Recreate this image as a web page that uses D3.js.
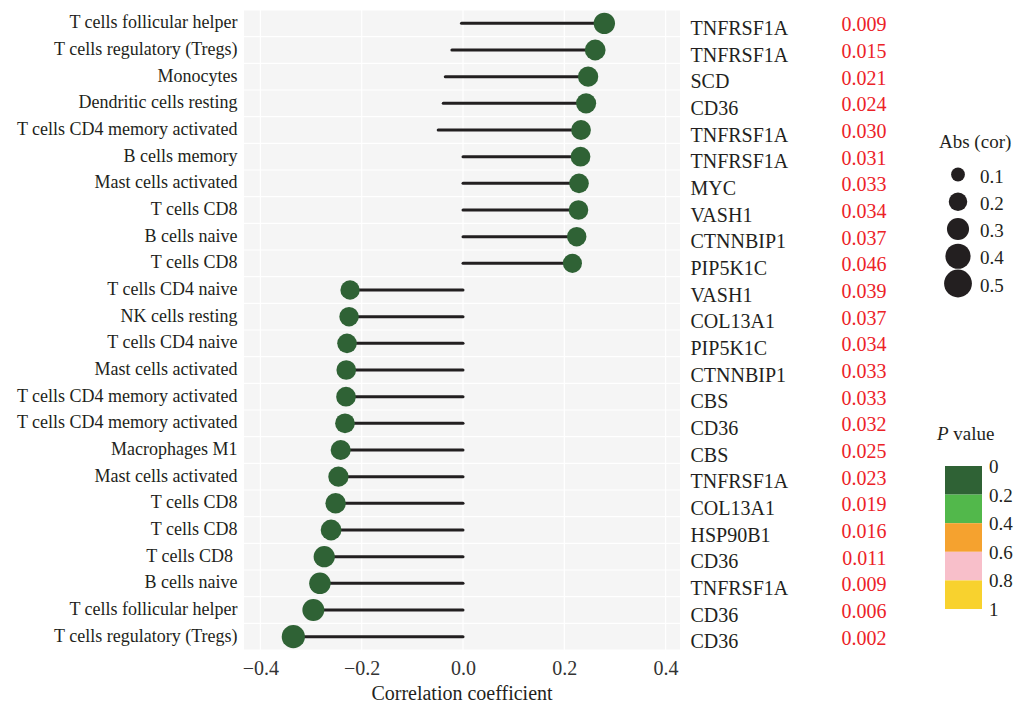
<!DOCTYPE html>
<html>
<head>
<meta charset="utf-8">
<script src="https://cdn.jsdelivr.net/npm/d3@7"></script>
<style>
  body { margin: 0; background: #fff; }
  svg { font-family: "Liberation Serif", "DejaVu Serif", serif; }
</style>
</head>
<body>
<svg id="chart" width="1021" height="705"></svg>
<script>
var cells = ["T cells follicular helper", "T cells regulatory (Tregs)", "Monocytes", "Dendritic cells resting",
  "T cells CD4 memory activated", "B cells memory", "Mast cells activated", "T cells CD8", "B cells naive",
  "T cells CD8", "T cells CD4 naive", "NK cells resting", "T cells CD4 naive", "Mast cells activated",
  "T cells CD4 memory activated", "T cells CD4 memory activated", "Macrophages M1", "Mast cells activated",
  "T cells CD8", "T cells CD8", "T cells CD8 ", "B cells naive", "T cells follicular helper",
  "T cells regulatory (Tregs)"];
var genes = ["TNFRSF1A", "TNFRSF1A", "SCD", "CD36", "TNFRSF1A", "TNFRSF1A", "MYC", "VASH1", "CTNNBIP1",
  "PIP5K1C", "VASH1", "COL13A1", "PIP5K1C", "CTNNBIP1", "CBS", "CD36", "CBS", "TNFRSF1A", "COL13A1",
  "HSP90B1", "CD36", "TNFRSF1A", "CD36", "CD36"];
var pvals = ["0.009", "0.015", "0.021", "0.024", "0.030", "0.031", "0.033", "0.034", "0.037", "0.046",
  "0.039", "0.037", "0.034", "0.033", "0.033", "0.032", "0.025", "0.023", "0.019", "0.016", "0.011",
  "0.009", "0.006", "0.002"];
var cors = [0.279, 0.261, 0.247, 0.243, 0.233, 0.232, 0.229, 0.228, 0.2245, 0.216,
  -0.223, -0.225, -0.229, -0.2305, -0.231, -0.233, -0.2415, -0.246, -0.2515, -0.2605,
  -0.274, -0.2825, -0.2955, -0.335];
var stemFrom = [-0.003, -0.022, -0.035, -0.039, -0.049, 0, 0, 0, 0, 0,
  0, 0, 0, 0, 0, 0, 0, 0, 0, 0, 0, 0, 0, 0];
var xTicks = [-0.4, -0.2, 0, 0.2, 0.4];
var sizeBreaks = [0.1, 0.2, 0.3, 0.4, 0.5];
var pBreaks = [0, 0.2, 0.4, 0.6, 0.8, 1];
var pColors = ["#2f6235", "#52b84b", "#f5a22f", "#f8bfca", "#f8d22e"];

var svg = d3.select("#chart");
var rows = d3.range(cells.length);

var x = d3.scaleLinear().domain([-0.4324, 0.4284]).range([244, 680]);
var y = d3.scaleBand().domain(rows).range([10, 650]);
var r = d3.scalePow().exponent(0.5).domain([0.1, 0.5]).range([6.9, 13.9]);
var pCol = d3.scaleThreshold().domain([0.2, 0.4, 0.6, 0.8]).range(pColors);

function cy(i) { return y(i) + y.bandwidth() / 2; }

// panel
svg.append("rect")
  .attr("x", 244).attr("y", 10)
  .attr("width", 436).attr("height", 640)
  .attr("fill", "#f5f5f5");

svg.append("g").selectAll("line")
  .data(d3.range(cells.length + 1))
  .enter().append("line")
  .attr("x1", 244).attr("x2", 680)
  .attr("y1", function (d) { return 10 + d * y.bandwidth(); })
  .attr("y2", function (d) { return 10 + d * y.bandwidth(); })
  .attr("stroke", "#fff").attr("stroke-width", 1.2);

svg.append("g").selectAll("line")
  .data(xTicks)
  .enter().append("line")
  .attr("x1", function (d) { return x(d); })
  .attr("x2", function (d) { return x(d); })
  .attr("y1", 10).attr("y2", 650)
  .attr("stroke", "#fff").attr("stroke-width", 1.2);

// stems and points
svg.append("g").selectAll("line")
  .data(rows)
  .enter().append("line")
  .attr("x1", function (i) { return x(stemFrom[i]); })
  .attr("x2", function (i) { return x(cors[i]); })
  .attr("y1", cy).attr("y2", cy)
  .attr("stroke", "#221f20")
  .attr("stroke-width", 3)
  .attr("stroke-linecap", "round");

svg.append("g").selectAll("circle")
  .data(rows)
  .enter().append("circle")
  .attr("cx", function (i) { return x(cors[i]); })
  .attr("cy", cy)
  .attr("r", function (i) { return r(Math.abs(cors[i])); })
  .attr("fill", function (i) { return pCol(+pvals[i]); });

// left labels
svg.append("g").selectAll("text")
  .data(rows)
  .enter().append("text")
  .attr("x", 237.5)
  .attr("y", function (i) { return cy(i) + 5; })
  .attr("text-anchor", "end")
  .attr("font-size", "18px")
  .attr("fill", "#231f20")
  .style("white-space", "pre")
  .text(function (i) { return cells[i]; });

// gene and p columns
svg.append("g").selectAll("text")
  .data(rows)
  .enter().append("text")
  .attr("x", 690.5)
  .attr("y", function (i) { return cy(i) + 11.5; })
  .attr("font-size", "20px")
  .attr("fill", "#231f20")
  .text(function (i) { return genes[i]; });

svg.append("g").selectAll("text")
  .data(rows)
  .enter().append("text")
  .attr("x", 886.5)
  .attr("y", function (i) { return cy(i) + 8; })
  .attr("text-anchor", "end")
  .attr("font-size", "20px")
  .attr("fill", "#ec2227")
  .text(function (i) { return pvals[i]; });

// x axis
var xAxis = d3.axisBottom(x)
  .tickValues(xTicks)
  .tickSize(0)
  .tickPadding(0)
  .tickFormat(function (d) { return d3.format(".1f")(d).replace("-", "\u2212"); });

var ax = svg.append("g")
  .attr("transform", "translate(0,650)")
  .call(xAxis);
ax.select(".domain").remove();
ax.selectAll("text")
  .attr("y", 25).attr("dy", null)
  .attr("font-family", "Liberation Serif, serif")
  .attr("font-size", "20px")
  .attr("fill", "#333");

svg.append("text")
  .attr("x", 462).attr("y", 700)
  .attr("text-anchor", "middle")
  .attr("font-size", "20px")
  .attr("fill", "#231f20")
  .text("Correlation coefficient");

// size legend
var sl = svg.append("g");
sl.append("text")
  .attr("x", 939).attr("y", 148)
  .attr("font-size", "19px")
  .attr("fill", "#231f20")
  .text("Abs (cor)");

var ly = d3.scalePoint().domain(sizeBreaks).range([174.5, 283.5]);
sl.selectAll("circle")
  .data(sizeBreaks)
  .enter().append("circle")
  .attr("cx", 958)
  .attr("cy", function (d) { return ly(d); })
  .attr("r", function (d) { return r(d); })
  .attr("fill", "#231f20");
sl.selectAll("text.lab")
  .data(sizeBreaks)
  .enter().append("text")
  .attr("class", "lab")
  .attr("x", 980)
  .attr("y", function (d) { return ly(d) + 8; })
  .attr("font-size", "19px")
  .attr("fill", "#231f20")
  .text(function (d) { return d; });

// p value legend
var pl = svg.append("g");
var pt = pl.append("text")
  .attr("x", 937).attr("y", 440)
  .attr("font-size", "19px")
  .attr("fill", "#231f20");
pt.append("tspan").attr("font-style", "italic").text("P");
pt.append("tspan").text(" value");

var py = d3.scaleLinear().domain([0, 1]).range([466, 609]);
pl.selectAll("rect")
  .data(pColors)
  .enter().append("rect")
  .attr("x", 945)
  .attr("y", function (d, i) { return py(pBreaks[i]); })
  .attr("width", 37)
  .attr("height", function (d, i) { return py(pBreaks[i + 1]) - py(pBreaks[i]); })
  .attr("fill", function (d) { return d; });
pl.selectAll("text.lab")
  .data(pBreaks)
  .enter().append("text")
  .attr("class", "lab")
  .attr("x", 989)
  .attr("y", function (d) { return py(d) + 7; })
  .attr("font-size", "19px")
  .attr("fill", "#231f20")
  .text(function (d) { return d; });
</script>
</body>
</html>
